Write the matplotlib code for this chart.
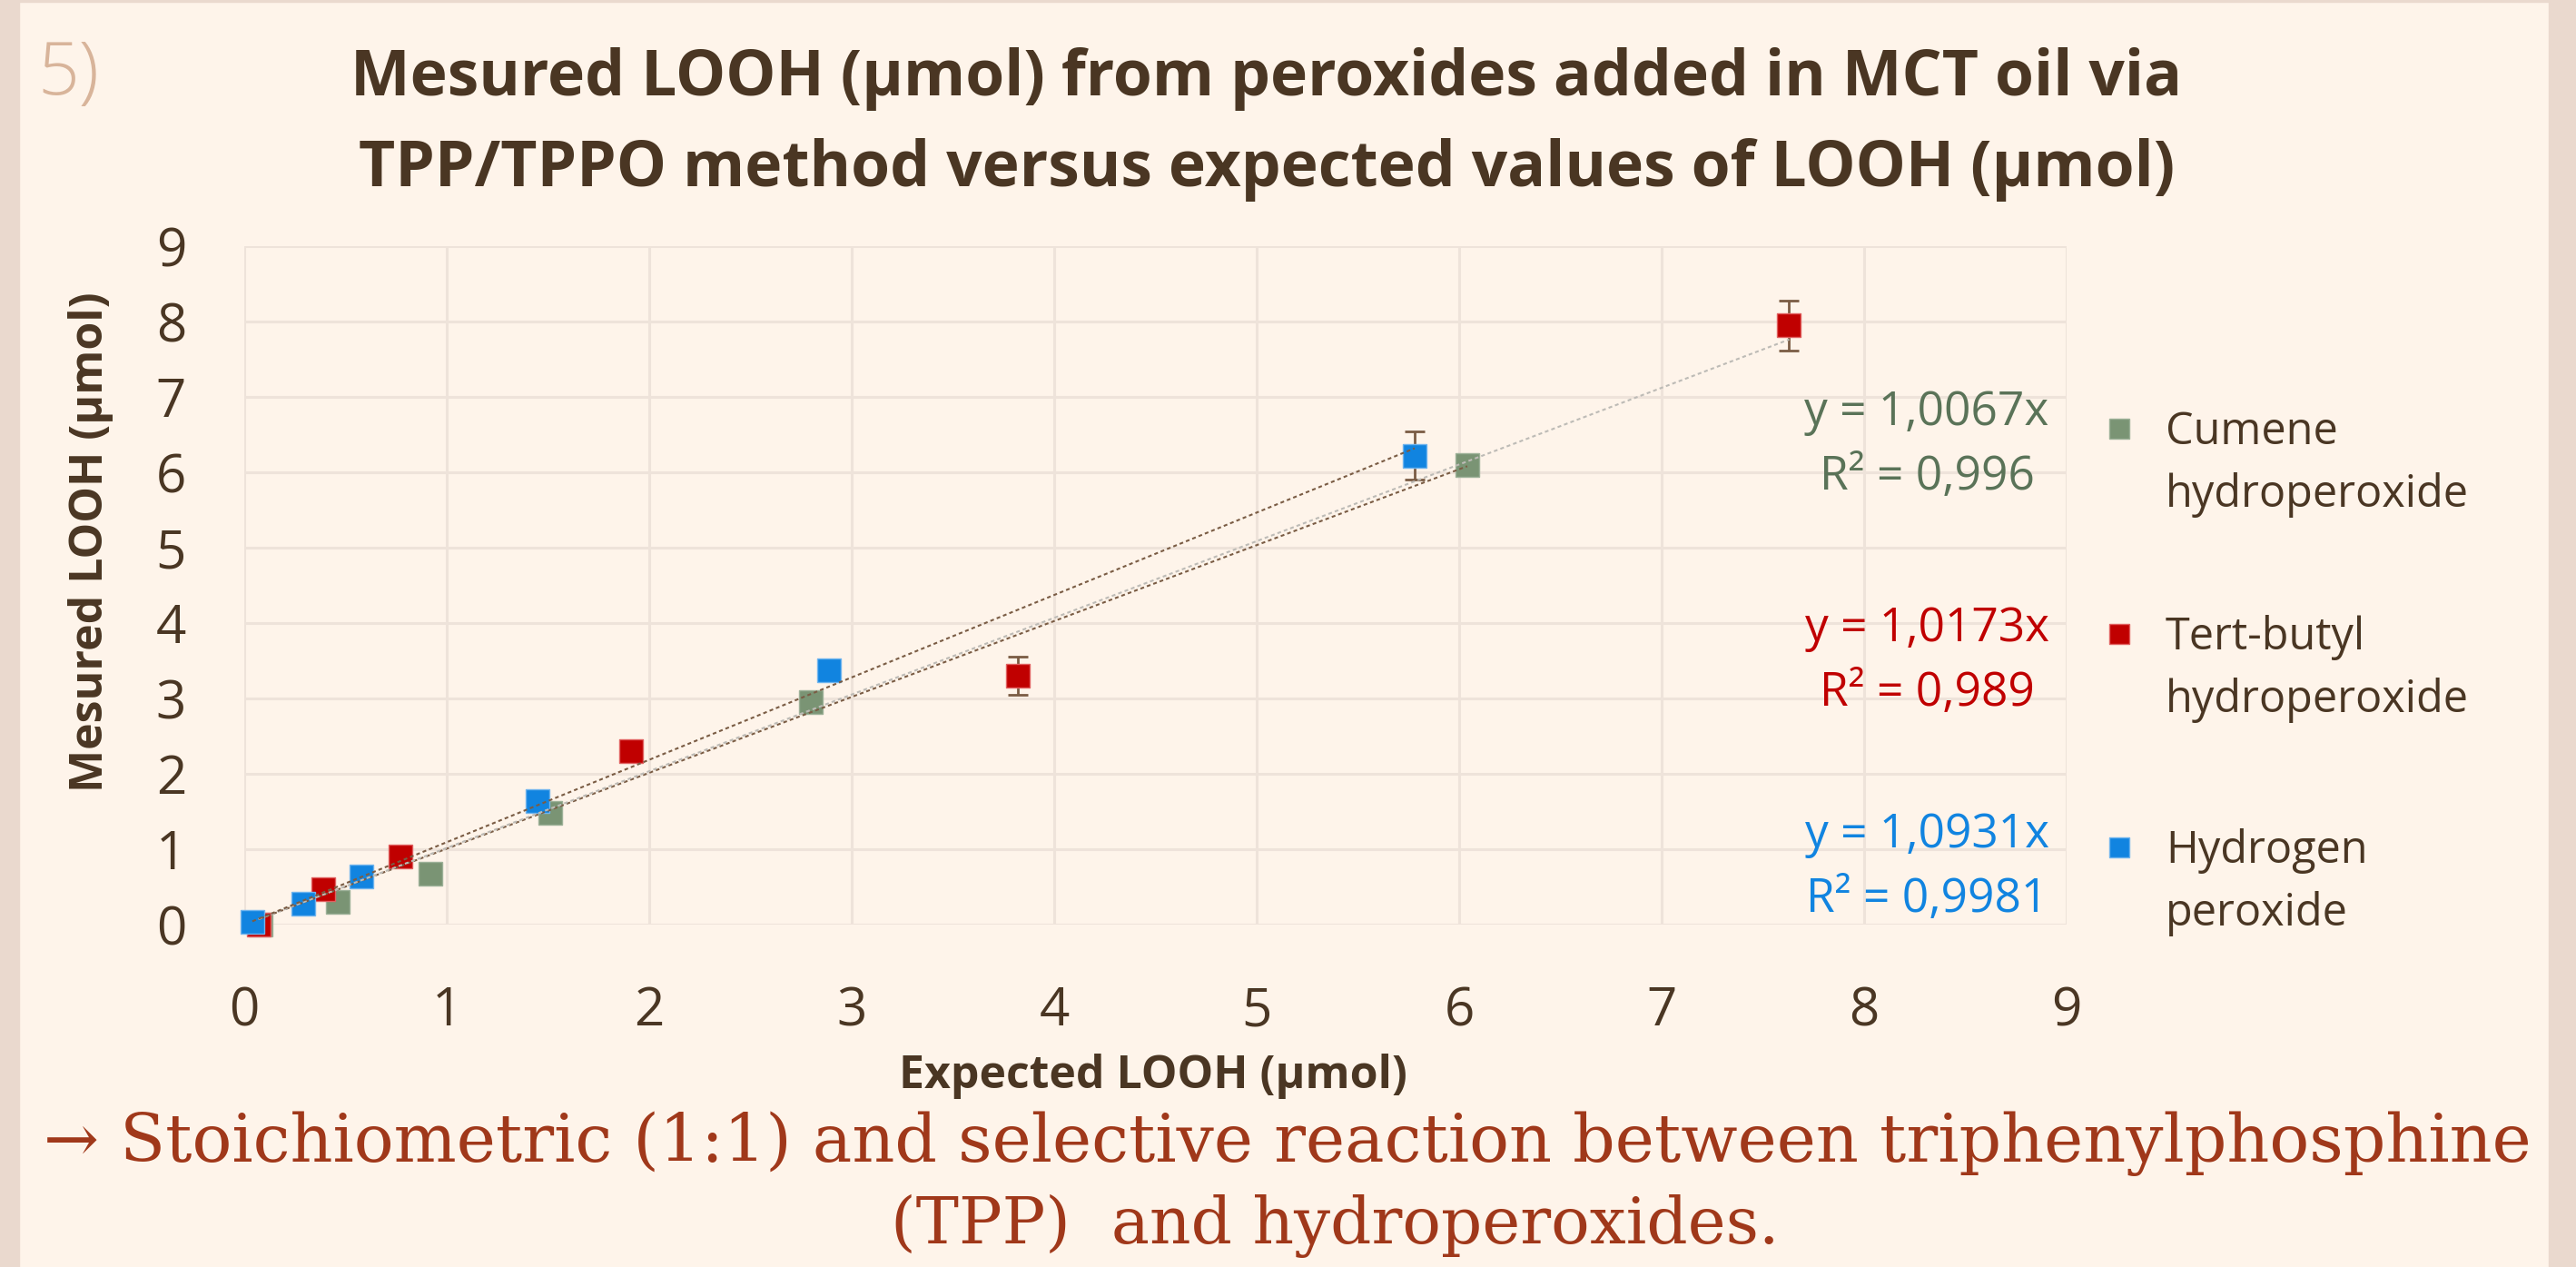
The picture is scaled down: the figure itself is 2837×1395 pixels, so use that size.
import matplotlib
matplotlib.use("Agg")
import matplotlib.pyplot as plt
from matplotlib.patches import Rectangle
from matplotlib.lines import Line2D

# ---------------- data ----------------
series_names = ["Cumene\nhydroperoxide", "Tert-butyl\nhydroperoxide", "Hydrogen\nperoxide"]

cumene_x = [0.08, 0.46, 0.92, 1.51, 2.80, 6.04]
cumene_y = [0.00, 0.30, 0.68, 1.48, 2.95, 6.10]
cumene_err = [0.0, 0.0, 0.0, 0.0, 0.0, 0.0]

tbhp_x = [0.07, 0.39, 0.77, 1.91, 3.82, 7.63]
tbhp_y = [0.00, 0.47, 0.90, 2.30, 3.30, 7.95]
tbhp_err = [0.0, 0.0, 0.0, 0.0, 0.25, 0.33]

h2o2_x = [0.04, 0.29, 0.58, 1.45, 2.89, 5.78]
h2o2_y = [0.04, 0.28, 0.64, 1.64, 3.37, 6.22]
h2o2_err = [0.0, 0.0, 0.0, 0.0, 0.0, 0.32]

slopes = [1.0067, 1.0173, 1.0931]
r2_values = ["0,996", "0,989", "0,9981"]
slope_labels = ["1,0067", "1,0173", "1,0931"]

ticks = [0, 1, 2, 3, 4, 5, 6, 7, 8, 9]

title_text = "Mesured LOOH (µmol) from peroxides added in MCT oil via\nTPP/TPPO method versus expected values of LOOH (µmol)"
xlabel_text = "Expected LOOH (µmol)"
ylabel_text = "Mesured LOOH (µmol)"
note_line1 = "→ Stoichiometric (1:1) and selective reaction between triphenylphosphine"
note_line2 = "(TPP)  and hydroperoxides."

# ---------------- style ----------------
W, H = 2837, 1395
BG = "#FEF4EA"
BAND = "#EAD9CE"
DARK = "#4A3623"
GRID = "#EEE3DA"
marker_colors = ["#7A9474", "#C00000", "#1184E0"]
edge_colors = ["#9DB198", "#E06060", "#6FB4EE"]
eq_colors = ["#5A7358", "#C00000", "#1184E0"]
trend_colors = ["#7A5C44", "#BDBBB6", "#7A5C44"]
ERR = "#7A5C44"
SANS = ["Open Sans", "DejaVu Sans"]
SERIF = ["DejaVu Serif"]

fig = plt.figure(figsize=(W / 100, H / 100), dpi=100)
fig.patch.set_facecolor(BG)

# side bands
fig.add_artist(Rectangle((0, 0), 21 / W, 1, transform=fig.transFigure, color=BAND, zorder=0))
fig.add_artist(Rectangle((2807 / W, 0), 30 / W, 1, transform=fig.transFigure, color=BAND, zorder=0))
fig.add_artist(Rectangle((0, 1 - 2 / H), 1, 2 / H, transform=fig.transFigure, color=BAND, zorder=0))

left, right, top, bottom = 269, 2276, 271, 1018
ax = fig.add_axes([left / W, 1 - bottom / H, (right - left) / W, (bottom - top) / H])
ax.set_facecolor("none")
ax.set_xlim(0, 9)
ax.set_ylim(0, 9)
ax.set_xticks(ticks)
ax.set_yticks(ticks)
ax.grid(True, color=GRID, lw=2.2, zorder=0)
for s in ax.spines.values():
    s.set_visible(False)
ax.tick_params(length=0, labelsize=42, labelcolor=DARK)
ax.tick_params(axis="y", pad=46)
ax.tick_params(axis="x", pad=48)
for lab in ax.get_xticklabels() + ax.get_yticklabels():
    lab.set_family(SANS)

xs = [cumene_x, tbhp_x, h2o2_x]
ys = [cumene_y, tbhp_y, h2o2_y]
errs = [cumene_err, tbhp_err, h2o2_err]

for i in range(3):
    ax.errorbar(xs[i], ys[i], yerr=errs[i], fmt="none", ecolor=ERR, elinewidth=2,
                capsize=8, capthick=2, zorder=2)
    ax.plot(xs[i], ys[i], ls="none", marker="s", ms=19, mfc=marker_colors[i],
            mec=edge_colors[i], mew=1, zorder=3 + i, clip_on=False)

for i in range(3):
    x0, x1 = min(xs[i]), max(xs[i])
    ax.plot([x0, x1], [slopes[i] * x0, slopes[i] * x1], color=trend_colors[i],
            lw=1.5, ls=(0, (2, 1.6)), zorder=7)

# equations
eq_y = [251, 383, 508]
for i in range(3):
    ycen = eq_y[i] * 1.8093
    fig.text(2122 / W, 1 - ycen / H, f"y = {slope_labels[i]}x", color=eq_colors[i],
             fontsize=37, family=SANS, ha="center", va="center")
    fig.text(2122 / W, 1 - (ycen + 71) / H, f"R² = {r2_values[i]}", color=eq_colors[i],
             fontsize=37, family=SANS, ha="center", va="center")

# legend (manual)
leg_y = [262, 387, 517]
for i in range(3):
    ycen = leg_y[i] * 1.8093
    fig.add_artist(Line2D([2334 / W], [1 - (ycen - 2) / H], transform=fig.transFigure,
                          marker="s", ms=16, mfc=marker_colors[i], mec=edge_colors[i], mew=1, ls="none"))
    fig.text(2385 / W, 1 - (ycen - 23) / H, series_names[i], color=DARK, fontsize=35,
             family=SANS, ha="left", va="top", linespacing=1.5)

# title
fig.text(1395 / W, 1 - 137 / H, title_text, color=DARK, fontsize=50, fontweight="bold",
         family=SANS, ha="center", va="center", linespacing=1.56)
fig.text(75 / W, 1 - 83 / H, "5)", color="#D8B49A", fontsize=58, fontweight="light",
         family=SANS, ha="center", va="center")

# axis labels
fig.text(1270 / W, 1 - 1185 / H, xlabel_text, color=DARK, fontsize=36, fontweight="bold",
         family=SANS, ha="center", va="center")
fig.text(100 / W, 1 - 597 / H, ylabel_text, color=DARK, fontsize=36, fontweight="bold",
         family=SANS, ha="center", va="center", rotation=90)

# bottom note
fig.text(1418 / W, 1 - 1259 / H, note_line1, color="#A0381A", fontsize=52.5,
         family=SERIF, ha="center", va="center")
fig.text(1470 / W, 1 - 1350 / H, note_line2, color="#A0381A", fontsize=51,
         family=SERIF, ha="center", va="center")

fig.savefig("out.png", dpi=100, facecolor=BG)
